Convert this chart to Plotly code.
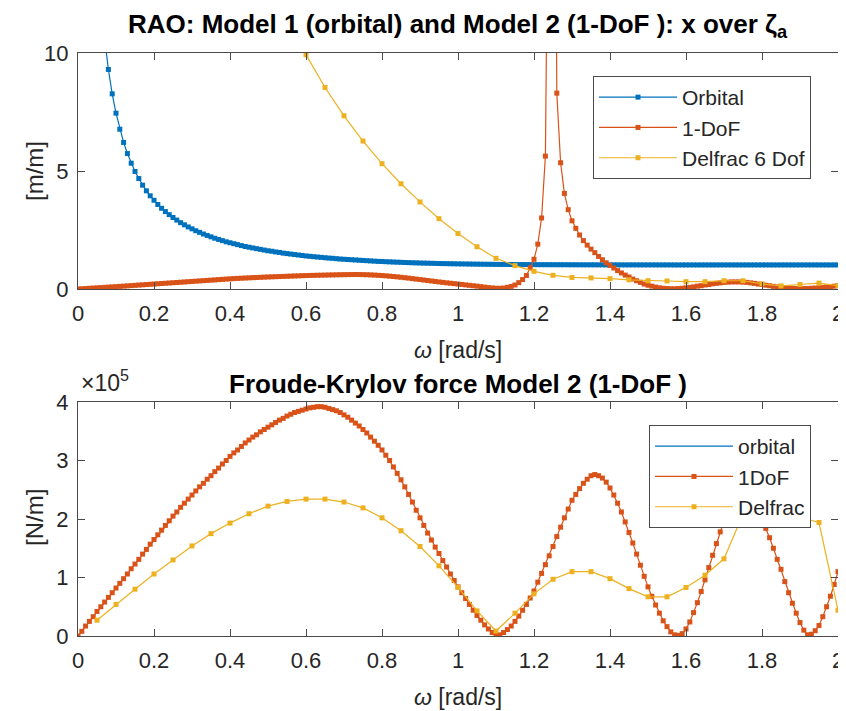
import plotly.graph_objects as go

# ---------------- data ----------------
omega_rao = [round(0.01 * i, 2) for i in range(0, 201)]      # 0.00 .. 2.00
omega_orb = [round(0.01 * i, 2) for i in range(1, 201)]      # 0.01 .. 2.00
omega_delfrac_rao = [round(0.05 * i, 2) for i in range(10, 41)]  # 0.50 .. 2.00
omega_delfrac_fk = [round(0.05 * i, 2) for i in range(1, 41)]    # 0.05 .. 2.00

orbital_rao = [
    74.2, 37.1, 24.75, 18.56, 14.86, 12.38, 10.62, 9.30, 8.27, 7.45,
    6.77, 6.21, 5.74, 5.33, 4.98, 4.68, 4.40, 4.16, 3.95, 3.76,
    3.58, 3.42, 3.28, 3.15, 3.03, 2.92, 2.81, 2.72, 2.63, 2.55,
    2.47, 2.40, 2.33, 2.27, 2.21, 2.15, 2.10, 2.05, 2.00, 1.96,
    1.92, 1.88, 1.84, 1.80, 1.77, 1.74, 1.71, 1.68, 1.65, 1.62,
    1.60, 1.57, 1.55, 1.52, 1.50, 1.48, 1.46, 1.44, 1.42, 1.40,
    1.385, 1.37, 1.355, 1.34, 1.325, 1.31, 1.30, 1.285, 1.27, 1.26,
    1.25, 1.24, 1.23, 1.22, 1.21, 1.20, 1.19, 1.18, 1.17, 1.165,
    1.157, 1.15, 1.143, 1.136, 1.13, 1.124, 1.118, 1.112, 1.107, 1.102,
    1.097, 1.093, 1.089, 1.085, 1.081, 1.077, 1.074, 1.071, 1.068, 1.065,
    1.062, 1.060, 1.057, 1.055, 1.053, 1.051, 1.049, 1.047, 1.045, 1.043,
    1.042, 1.040, 1.039, 1.038, 1.037, 1.036, 1.035, 1.034, 1.033, 1.032,
    1.031, 1.031, 1.030, 1.030, 1.029, 1.029, 1.028, 1.028, 1.027, 1.027,
    1.026, 1.026, 1.025, 1.025, 1.025, 1.024, 1.024, 1.024, 1.023, 1.023,
    1.023, 1.023, 1.022, 1.022, 1.022, 1.022, 1.022, 1.021, 1.021, 1.021,
    1.021, 1.021, 1.021, 1.021, 1.021, 1.021, 1.020, 1.020, 1.020, 1.020,
    1.020, 1.020, 1.020, 1.020, 1.020, 1.020, 1.020, 1.020, 1.020, 1.020,
    1.020, 1.020, 1.020, 1.020, 1.020, 1.020, 1.020, 1.020, 1.020, 1.020,
    1.020, 1.020, 1.020, 1.020, 1.020, 1.020, 1.020, 1.020, 1.020, 1.020,
    1.020, 1.020, 1.020, 1.020, 1.020, 1.020, 1.020, 1.020, 1.020, 1.020,
]

dof1_rao = [
    0.00, 0.01, 0.02, 0.03, 0.04, 0.05, 0.06, 0.07, 0.08, 0.09, 0.10,
    0.111, 0.122, 0.133, 0.144, 0.155, 0.166, 0.177, 0.188, 0.199, 0.21,
    0.221, 0.232, 0.243, 0.254, 0.265, 0.276, 0.287, 0.298, 0.309, 0.32,
    0.331, 0.342, 0.353, 0.364, 0.375, 0.386, 0.397, 0.408, 0.419, 0.43,
    0.44, 0.449, 0.457, 0.465, 0.473, 0.481, 0.488, 0.495, 0.502, 0.51,
    0.516, 0.522, 0.528, 0.534, 0.54, 0.546, 0.552, 0.558, 0.564, 0.57,
    0.574, 0.578, 0.582, 0.586, 0.59, 0.594, 0.598, 0.601, 0.604, 0.607,
    0.61, 0.612, 0.613, 0.612, 0.609, 0.604, 0.597, 0.589, 0.58, 0.57,
    0.558, 0.545, 0.53, 0.514, 0.497, 0.479, 0.46, 0.44, 0.42, 0.40,
    0.38, 0.36, 0.34, 0.32, 0.30, 0.28, 0.262, 0.245, 0.228, 0.21,
    0.192, 0.174, 0.156, 0.138, 0.12, 0.10, 0.08, 0.06, 0.045, 0.033,
    0.028, 0.04, 0.07, 0.11, 0.17, 0.27, 0.40, 0.57, 0.90, 1.26,
    1.90, 3.01, 5.63, 16.0, 40.0, 8.30, 5.35, 4.05, 3.36, 2.89,
    2.57, 2.29, 2.05, 1.86, 1.69, 1.54, 1.38, 1.24, 1.11, 1.00,
    0.89, 0.78, 0.68, 0.59, 0.51, 0.42, 0.35, 0.28, 0.21, 0.16,
    0.12, 0.08, 0.05, 0.03, 0.02, 0.01, 0.01, 0.02, 0.03, 0.05,
    0.07, 0.09, 0.12, 0.14, 0.17, 0.19, 0.22, 0.24, 0.26, 0.28,
    0.29, 0.30, 0.30, 0.30, 0.29, 0.28, 0.26, 0.24, 0.21, 0.19,
    0.16, 0.14, 0.11, 0.09, 0.07, 0.05, 0.04, 0.03, 0.02, 0.02,
    0.02, 0.02, 0.03, 0.04, 0.05, 0.07, 0.08, 0.10, 0.12, 0.14,
]

delfrac_rao = [
    13.9, 11.75, 9.93, 8.54, 7.34, 6.27, 5.31, 4.46, 3.69, 2.98,
    2.35, 1.79, 1.30, 0.99, 0.75, 0.58, 0.49, 0.47, 0.44, 0.39,
    0.35, 0.34, 0.31, 0.31, 0.35, 0.35, 0.22, 0.13, 0.19, 0.25,
    0.14,
]

# Froude-Krylov force, in units of 1e5 N/m
dof1_fk = [
    0.00, 0.08, 0.17, 0.25, 0.33, 0.42, 0.50, 0.58, 0.66, 0.74, 0.82,
    0.90, 0.98, 1.06, 1.15, 1.23, 1.31, 1.40, 1.48, 1.57, 1.65,
    1.73, 1.81, 1.89, 1.97, 2.05, 2.12, 2.20, 2.27, 2.34, 2.41,
    2.48, 2.55, 2.61, 2.68, 2.74, 2.81, 2.87, 2.94, 3.00, 3.07,
    3.13, 3.18, 3.24, 3.30, 3.35, 3.40, 3.44, 3.49, 3.53, 3.57,
    3.61, 3.65, 3.69, 3.72, 3.76, 3.79, 3.82, 3.84, 3.86, 3.88,
    3.90, 3.91, 3.92, 3.92, 3.91, 3.89, 3.87, 3.85, 3.82, 3.78,
    3.74, 3.69, 3.64, 3.59, 3.53, 3.47, 3.40, 3.33, 3.26, 3.18,
    3.09, 3.00, 2.89, 2.78, 2.67, 2.55, 2.42, 2.29, 2.15, 2.02,
    1.89, 1.76, 1.64, 1.52, 1.41, 1.29, 1.18, 1.06, 0.95, 0.84,
    0.74, 0.64, 0.54, 0.44, 0.35, 0.27, 0.19, 0.12, 0.06, 0.02,
    0.02, 0.06, 0.11, 0.17, 0.25, 0.34, 0.44, 0.54, 0.65, 0.77,
    0.92, 1.07, 1.22, 1.37, 1.53, 1.70, 1.86, 2.02, 2.17, 2.32,
    2.42, 2.52, 2.61, 2.68, 2.74, 2.76, 2.74, 2.70, 2.63, 2.53,
    2.41, 2.27, 2.12, 1.95, 1.77, 1.59, 1.40, 1.21, 1.02, 0.84,
    0.68, 0.53, 0.39, 0.26, 0.16, 0.07, 0.02, 0.01, 0.04, 0.12,
    0.24, 0.40, 0.57, 0.76, 0.96, 1.17, 1.38, 1.58, 1.78, 1.97,
    2.13, 2.26, 2.36, 2.42, 2.45, 2.43, 2.37, 2.28, 2.15, 2.00,
    1.84, 1.68, 1.50, 1.31, 1.14, 0.93, 0.74, 0.56, 0.39, 0.23,
    0.10, 0.02, 0.03, 0.09, 0.18, 0.33, 0.50, 0.68, 0.88, 1.10,
]

delfrac_fk = [
    0.27, 0.54, 0.80, 1.06, 1.30, 1.54, 1.75, 1.93, 2.09, 2.22,
    2.30, 2.34, 2.34, 2.29, 2.19, 2.02, 1.80, 1.53, 1.20, 0.83,
    0.43, 0.085, 0.39, 0.72, 0.97, 1.10, 1.10, 0.98, 0.81, 0.67,
    0.67, 0.83, 1.04, 1.32, 2.08, 2.15, 2.04, 2.03, 1.94, 0.44,
]

x_ticks = [0, 0.2, 0.4, 0.6, 0.8, 1, 1.2, 1.4, 1.6, 1.8, 2]

# ---------------- style ----------------
BLUE = "#0072BD"
RED = "#D95319"
YEL = "#EDB120"
AX = "#4a4a4a"
TXT = "#262626"
FONT = "Liberation Sans, Arial, sans-serif"

fig = go.Figure()

def line_trace(x, y, color, name, xa, ya, legend, markers=True):
    return go.Scatter(
        x=x, y=y, name=name, xaxis=xa, yaxis=ya, legend=legend,
        mode="lines+markers" if markers else "lines",
        line=dict(color=color, width=1.2),
        marker=dict(symbol="square", size=5, color=color, line=dict(width=0)),
        cliponaxis=True, showlegend=True,
    )

fig.add_trace(line_trace(omega_orb, orbital_rao, BLUE, "Orbital", "x", "y", "legend"))
fig.add_trace(line_trace(omega_rao, dof1_rao, RED, "1-DoF", "x", "y", "legend"))
fig.add_trace(line_trace(omega_delfrac_rao, delfrac_rao, YEL, "Delfrac 6 Dof", "x", "y", "legend"))

fig.add_trace(line_trace([None], [None], BLUE, "orbital", "x2", "y2", "legend2", markers=False))
fig.add_trace(line_trace(omega_rao, dof1_fk, RED, "1DoF", "x2", "y2", "legend2"))
fig.add_trace(line_trace(omega_delfrac_fk, delfrac_fk, YEL, "Delfrac", "x2", "y2", "legend2"))

axis_common = dict(
    showline=True, linecolor=AX, linewidth=1, mirror="ticks",
    ticks="inside", ticklen=7, tickcolor=AX, tickwidth=1,
    showgrid=False, zeroline=False, automargin=False,
    tickfont=dict(family=FONT, size=22, color=TXT),
)

# The page adds an 8 px body margin; the figure is sized to fit inside it.
OFF = 8
FIG_W, FIG_H = 846 - OFF, 711 - OFF
plot_top, plot_bot = 53, 636      # page pixels
plot_left, plot_right = 78, 838
ph = plot_bot - plot_top
pw = plot_right - plot_left

def py(pix):
    return (plot_bot - pix) / ph

def px(pix):
    return (pix - plot_left) / pw

fig.update_layout(
    width=FIG_W, height=FIG_H,
    margin=dict(l=plot_left - OFF, r=FIG_W - (plot_right - OFF),
                t=plot_top - OFF, b=FIG_H - (plot_bot - OFF), autoexpand=False),
    paper_bgcolor="white", plot_bgcolor="white",
    font=dict(family=FONT, color=TXT),
    xaxis=dict(domain=[0, 1], range=[0, 2], tickvals=x_ticks, anchor="y",
               ticklabelstandoff=5, **axis_common),
    yaxis=dict(domain=[py(289), 1], range=[0, 10], tickvals=[0, 5, 10], anchor="x",
               ticklabelstandoff=4, **axis_common),
    xaxis2=dict(domain=[0, 1], range=[0, 2], tickvals=x_ticks, anchor="y2",
                ticklabelstandoff=5, **axis_common),
    yaxis2=dict(domain=[0, py(402)], range=[0, 4], tickvals=[0, 1, 2, 3, 4], anchor="x2",
                ticklabelstandoff=4, **axis_common),
    legend=dict(x=px(593), y=py(76), xanchor="left", yanchor="top",
                bgcolor="white", bordercolor=AX, borderwidth=1,
                font=dict(family=FONT, size=21, color=TXT), itemwidth=78,
                tracegroupgap=0),
    legend2=dict(x=px(649), y=py(425), xanchor="left", yanchor="top",
                 bgcolor="white", bordercolor=AX, borderwidth=1,
                 font=dict(family=FONT, size=21, color=TXT), itemwidth=78,
                 tracegroupgap=0),
    showlegend=True,
)

ann = []
ann.append(dict(text="<b>RAO: Model 1 (orbital) and Model 2 (1-DoF ): x over ζ<sub>a</sub></b>",
                x=0.5, y=py(25), xref="paper", yref="paper", showarrow=False,
                xanchor="center", yanchor="middle", font=dict(family=FONT, size=26, color="black")))
ann.append(dict(text="<b>Froude-Krylov force Model 2 (1-DoF )</b>",
                x=0.5, y=py(384), xref="paper", yref="paper", showarrow=False,
                xanchor="center", yanchor="middle", font=dict(family=FONT, size=26, color="black")))
ann.append(dict(text="<i>ω</i> [rad/s]", x=0.5, y=py(350), xref="paper", yref="paper",
                showarrow=False, xanchor="center", yanchor="middle",
                font=dict(family=FONT, size=23, color=TXT)))
ann.append(dict(text="<i>ω</i> [rad/s]", x=0.5, y=py(697), xref="paper", yref="paper",
                showarrow=False, xanchor="center", yanchor="middle",
                font=dict(family=FONT, size=23, color=TXT)))
ann.append(dict(text="[m/m]", x=px(34), y=py(171), xref="paper", yref="paper",
                showarrow=False, xanchor="center", yanchor="middle", textangle=-90,
                font=dict(family=FONT, size=24, color=TXT)))
ann.append(dict(text="[N/m]", x=px(34), y=py(518), xref="paper", yref="paper",
                showarrow=False, xanchor="center", yanchor="middle", textangle=-90,
                font=dict(family=FONT, size=24, color=TXT)))
ann.append(dict(text="×10<sup>5</sup>", x=px(79), y=py(398), xref="paper", yref="paper",
                showarrow=False, xanchor="left", yanchor="bottom",
                font=dict(family=FONT, size=23, color=TXT)))
fig.update_layout(annotations=ann)

fig.write_html("out.html")
